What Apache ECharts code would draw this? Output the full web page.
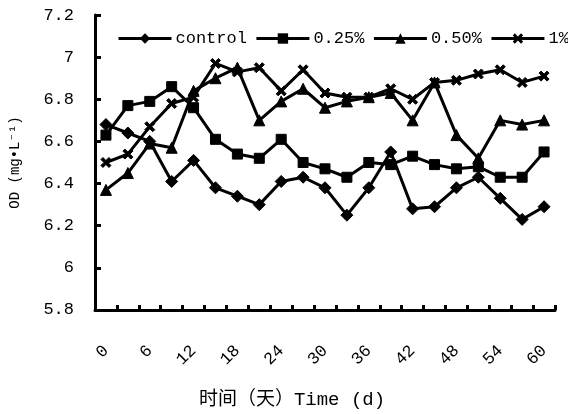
<!DOCTYPE html>
<html>
<head>
<meta charset="utf-8">
<script src="https://cdn.jsdelivr.net/npm/echarts@6/dist/echarts.min.js"></script>
<style>
  html, body { margin: 0; padding: 0; background: #fff; }
  #chart { width: 568px; height: 414px; }
</style>
</head>
<body>
<div id="chart"></div>
<script>
// Sampling days (every 3 days over 60 days)
const days = ['0','3','6','9','12','15','18','21','24','27','30','33','36','39','42','45','48','51','54','57','60'];

// OD readings (mg/L) for each treatment
const seriesNames = ['control', '0.25%', '0.50%', '1%'];
const control = [6.68,6.64,6.60,6.41,6.51,6.38,6.34,6.30,6.41,6.43,6.38,6.25,6.38,6.55,6.28,6.29,6.38,6.43,6.33,6.23,6.29];
const dose025 = [6.63,6.77,6.79,6.86,6.76,6.61,6.54,6.52,6.61,6.50,6.47,6.43,6.50,6.49,6.53,6.49,6.47,6.48,6.43,6.43,6.55];
const dose050 = [6.37,6.45,6.59,6.57,6.84,6.90,6.95,6.70,6.79,6.85,6.76,6.79,6.81,6.83,6.70,6.88,6.63,6.52,6.70,6.68,6.70];
const dose100 = [6.50,6.54,6.67,6.78,6.81,6.97,6.93,6.95,6.84,6.94,6.83,6.81,6.81,6.85,6.80,6.88,6.89,6.92,6.94,6.88,6.91];

const yMin = 5.8, yMax = 7.2, yStep = 0.2;

const monoFont = '"Liberation Mono", "DejaVu Sans Mono", "Noto Sans CJK SC", monospace';
const crossPath = 'path://M2,0 L5,3 L8,0 L10,2 L7,5 L10,8 L8,10 L5,7 L2,10 L0,8 L3,5 L0,2 Z';

const markers = [
  { symbol: 'diamond', size: 12 },
  { symbol: 'rect', size: 10 },
  { symbol: 'triangle', size: 11 },
  { symbol: crossPath, size: 10 }
];
const values = [control, dose025, dose050, dose100];

const chart = echarts.init(document.getElementById('chart'), null, { renderer: 'canvas' });

chart.setOption({
  animation: false,
  backgroundColor: '#ffffff',
  textStyle: { fontFamily: monoFont, color: '#000' },
  grid: { left: 94, right: 13, top: 15, bottom: 96, containLabel: false },
  legend: {
    data: seriesNames.map(name => ({ name, lineStyle: { width: 3, color: '#000' } })),
    left: 112,
    top: 25,
    width: 470,
    itemWidth: 53,
    itemHeight: 13,
    itemGap: 8,
    lineStyle: { color: '#000', width: 3 },
    itemStyle: { color: '#000' },
    textStyle: { fontFamily: monoFont, fontSize: 17, color: '#000', padding: [0, 0, 0, -1] }
  },
  xAxis: {
    type: 'category',
    data: days,
    boundaryGap: true,
    name: '时间（天）Time (d)',
    nameLocation: 'middle',
    nameGap: 80,
    nameTextStyle: { fontFamily: monoFont, fontSize: 19, color: '#000', padding: [0, 66, 0, 0] },
    axisLine: { show: true, lineStyle: { color: '#000', width: 3 } },
    axisTick: { show: true, inside: true, length: 5, interval: 0, lineStyle: { color: '#000', width: 3 } },
    axisLabel: { interval: 1, rotate: 45, margin: 38, fontFamily: monoFont, fontSize: 17, color: '#000' },
    splitLine: { show: false }
  },
  yAxis: {
    type: 'value',
    min: yMin,
    max: yMax,
    interval: yStep,
    name: 'OD (mg•L⁻¹)',
    nameLocation: 'middle',
    nameRotate: 90,
    nameGap: 73,
    nameTextStyle: { fontFamily: monoFont, fontSize: 14, color: '#000' },
    axisLine: { show: true, lineStyle: { color: '#000', width: 3 } },
    axisTick: { show: true, inside: true, length: 6, lineStyle: { color: '#000', width: 3 } },
    axisLabel: {
      margin: 21,
      fontFamily: monoFont,
      fontSize: 17,
      color: '#000',
      formatter: v => (Math.round(v * 10) / 10).toString()
    },
    splitLine: { show: false }
  },
  series: seriesNames.map((name, i) => ({
    name,
    type: 'line',
    data: values[i],
    symbol: markers[i].symbol,
    symbolSize: markers[i].size,
    showAllSymbol: true,
    lineStyle: { color: '#000', width: 3 },
    itemStyle: { color: '#000', borderColor: '#000' },
    emphasis: { disabled: true }
  }))
});
</script>
</body>
</html>
